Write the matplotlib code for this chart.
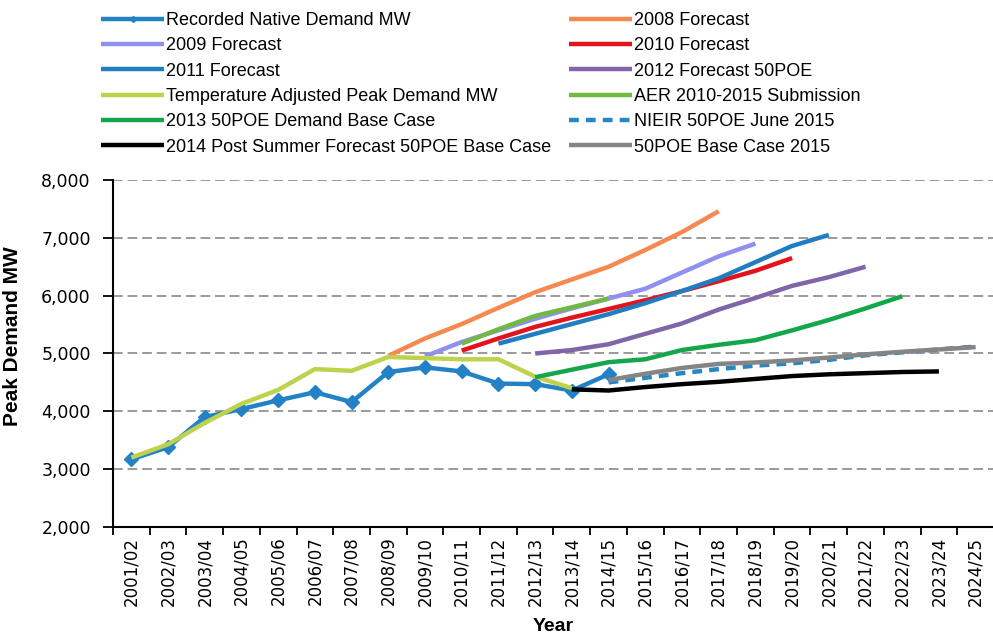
import numpy as np
import matplotlib.pyplot as plt

plt.rcParams['font.family'] = ['Liberation Sans', 'DejaVu Sans']

years = ["2001/02", "2002/03", "2003/04", "2004/05", "2005/06", "2006/07",
         "2007/08", "2008/09", "2009/10", "2010/11", "2011/12", "2012/13",
         "2013/14", "2014/15", "2015/16", "2016/17", "2017/18", "2018/19",
         "2019/20", "2020/21", "2021/22", "2022/23", "2023/24", "2024/25"]

# each series: first year it appears, then its values
recorded_start = "2001/02"
recorded = [3170, 3380, 3900, 4040, 4190, 4330, 4160, 4680, 4760, 4690, 4480, 4470, 4360, 4640]
f2008_start = "2008/09"
f2008 = [4960, 5260, 5510, 5790, 6060, 6280, 6500, 6790, 7100, 7460]
f2009_start = "2009/10"
f2009 = [4950, 5200, 5400, 5600, 5780, 5950, 6120, 6400, 6680, 6900]
f2010_start = "2010/11"
f2010 = [5050, 5260, 5460, 5620, 5770, 5920, 6080, 6250, 6430, 6650]
f2011_start = "2011/12"
f2011 = [5170, 5340, 5510, 5680, 5870, 6080, 6300, 6580, 6860, 7050]
f2012_start = "2012/13"
f2012 = [5000, 5060, 5160, 5340, 5520, 5760, 5960, 6170, 6320, 6500]
temp_adj_start = "2001/02"
temp_adj = [3200, 3430, 3800, 4130, 4370, 4730, 4700, 4940, 4920, 4900, 4900, 4600, 4400]
aer_start = "2010/11"
aer = [5170, 5420, 5650, 5800, 5950]
base2013_start = "2012/13"
base2013 = [4590, 4720, 4850, 4900, 5060, 5150, 5230, 5400, 5580, 5780, 5990]
nieir_start = "2014/15"
nieir = [4500, 4580, 4660, 4730, 4790, 4830, 4890, 4970, 5020, 5070, 5120]
ps2014_start = "2013/14"
ps2014 = [4380, 4360, 4420, 4470, 4510, 4560, 4610, 4640, 4660, 4680, 4690]
base2015_start = "2014/15"
base2015 = [4540, 4650, 4750, 4820, 4845, 4880, 4930, 4985, 5030, 5070, 5110]

series = [
    ("Recorded Native Demand MW", recorded_start, recorded, "#2382c6", "-", "D"),
    ("2008 Forecast", f2008_start, f2008, "#f5894f", "-", None),
    ("2009 Forecast", f2009_start, f2009, "#9090f2", "-", None),
    ("2010 Forecast", f2010_start, f2010, "#e3121b", "-", None),
    ("2011 Forecast", f2011_start, f2011, "#1f7dc1", "-", None),
    ("2012 Forecast 50POE", f2012_start, f2012, "#8066a8", "-", None),
    ("Temperature Adjusted Peak Demand MW", temp_adj_start, temp_adj, "#bed24e", "-", None),
    ("AER 2010-2015 Submission", aer_start, aer, "#72b944", "-", None),
    ("2013 50POE Demand Base Case", base2013_start, base2013, "#14a64a", "-", None),
    ("NIEIR 50POE June 2015", nieir_start, nieir, "#2787c6", (0, (2.2, 1.6)), None),
    ("2014 Post Summer Forecast 50POE Base Case", ps2014_start, ps2014, "#000000", "-", None),
    ("50POE Base Case 2015", base2015_start, base2015, "#858585", "-", None),
]

fig = plt.figure(figsize=(9.93, 6.39), dpi=100)
ax = fig.add_axes([0.1138, 0.1753, 0.8872, 0.543])

handles = []
for name, start, vals, color, ls, marker in series:
    i0 = years.index(start)
    x = np.arange(i0, i0 + len(vals))
    h, = ax.plot(x, vals, color=color, lw=3.2, ls=ls, marker=marker,
                 markersize=7, label=name, solid_capstyle='butt')
    handles.append(h)

ax.set_xlim(-0.5, len(years) - 0.5)
ax.set_ylim(2000, 8000)
ax.set_yticks(range(2000, 8001, 1000))
ax.set_yticklabels([f"{v:,}" for v in range(2000, 8001, 1000)],
                   fontsize=12.5, family='DejaVu Sans')
for v in range(3000, 8001, 1000):
    ax.axhline(v, color="#9a9a9a", lw=1.4, ls=(0, (5, 2.5)), zorder=0)

ax.set_xticks(np.arange(len(years) + 1) - 0.5)
ax.set_xticklabels([])
ax.set_xticks(np.arange(len(years)), minor=True)
ax.set_xticklabels(years, minor=True, rotation=90, fontsize=12, family='DejaVu Sans')
ax.tick_params(axis='x', which='minor', length=0, pad=7)
ax.tick_params(axis='x', which='major', length=6, width=1.3, direction='out')
ax.tick_params(axis='y', length=7, width=1.3, direction='out', pad=9)

for s in ["top", "right"]:
    ax.spines[s].set_visible(False)
for s in ["left", "bottom"]:
    ax.spines[s].set_linewidth(1.5)

ax.set_xlabel("Year", fontsize=14, fontweight="bold", labelpad=9)
ax.set_ylabel("Peak Demand MW", fontsize=15, fontweight="bold")
ax.yaxis.set_label_coords(-91 / 880, 0.55)

# legend laid out row by row in two columns
col1 = handles[0::2]
col2 = handles[1::2]
leg_kw = dict(frameon=False, fontsize=13, handlelength=3.5, handletextpad=0.1,
              labelspacing=0.46, borderpad=0, borderaxespad=0, numpoints=1,
              loc="upper left")
leg1 = fig.legend(handles=col1, bbox_to_anchor=(101 / 993, 1 - 12 / 639), **leg_kw)
leg2 = fig.legend(handles=col2, bbox_to_anchor=(569 / 993, 1 - 12 / 639), **leg_kw)
for leg in (leg1, leg2):
    for line in leg.get_lines():
        line.set_markersize(3)

fig.savefig("out.png", dpi=100)
